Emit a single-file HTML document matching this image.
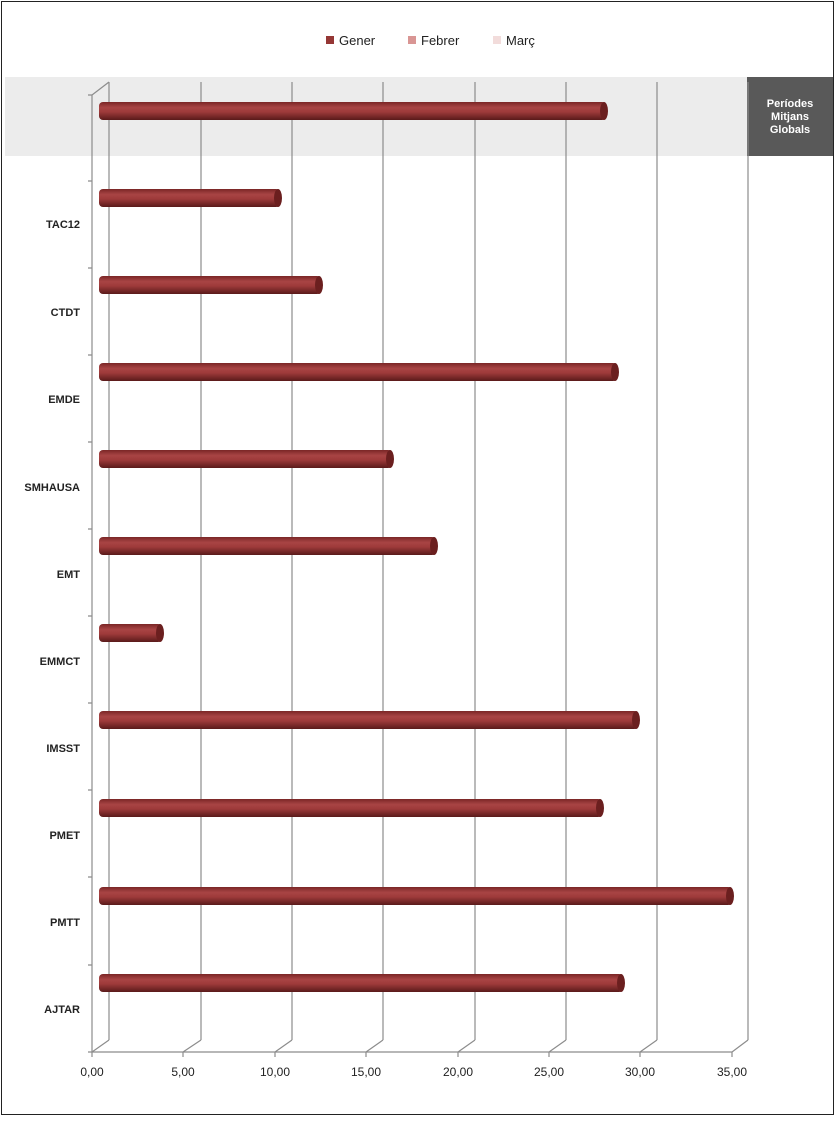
<!DOCTYPE html>
<html><head><meta charset="utf-8"><style>
body{margin:0;background:#fff;}
svg text{font-family:"Liberation Sans",sans-serif;}
</style></head><body>
<svg width="836" height="1117" viewBox="0 0 836 1117" xmlns="http://www.w3.org/2000/svg">
<defs>
<linearGradient id="cyl" x1="0" y1="0" x2="0" y2="1">
<stop offset="0" stop-color="#7a2626"/>
<stop offset="0.3" stop-color="#a84444"/>
<stop offset="0.55" stop-color="#9e3a3a"/>
<stop offset="1" stop-color="#5a1a1a"/>
</linearGradient>
</defs>
<rect x="1.5" y="1.5" width="832" height="1113" fill="#fff" stroke="#222" stroke-width="1"/>
<rect x="5" y="77" width="742" height="79" fill="#ececec"/>
<rect x="747" y="77" width="86" height="79" fill="#595959"/>
<text x="790" y="107" fill="#fff" font-size="11" font-weight="bold" text-anchor="middle">Períodes</text>
<text x="790" y="120" fill="#fff" font-size="11" font-weight="bold" text-anchor="middle">Mitjans</text>
<text x="790" y="133" fill="#fff" font-size="11" font-weight="bold" text-anchor="middle">Globals</text>
<!-- legend -->
<rect x="326" y="36" width="8" height="8" fill="#953735"/>
<text x="339" y="45" font-size="13" fill="#222">Gener</text>
<rect x="408" y="36" width="8" height="8" fill="#d99694"/>
<text x="421" y="45" font-size="13" fill="#222">Febrer</text>
<rect x="493" y="36" width="8" height="8" fill="#f2dcdb"/>
<text x="506" y="45" font-size="13" fill="#222">Març</text>
<g stroke="#8c8c8c" stroke-width="1.2" fill="none">
<path d="M109 82V1040 M201 82V1040 M292 82V1040 M383 82V1040 M475 82V1040 M566 82V1040 M657 82V1040 M748 82V1040"/>
<path d="M92 95L109 82 M92 95V1052H732 M92 1052L109 1040 M183 1052L201 1040 M275 1052L292 1040 M366 1052L383 1040 M458 1052L475 1040 M549 1052L566 1040 M640 1052L657 1040 M732 1052L748 1040"/>
<path d="M88 95H92 M88 181H92 M88 268H92 M88 355H92 M88 442H92 M88 529H92 M88 616H92 M88 703H92 M88 790H92 M88 877H92 M88 965H92 M88 1052H92"/>
<path d="M92 1052V1057 M183 1052V1057 M275 1052V1057 M366 1052V1057 M458 1052V1057 M549 1052V1057 M640 1052V1057 M732 1052V1057"/>
</g>
<g font-size="12" fill="#222" text-anchor="middle">
<text x="92" y="1076">0,00</text><text x="183" y="1076">5,00</text><text x="275" y="1076">10,00</text><text x="366" y="1076">15,00</text><text x="458" y="1076">20,00</text><text x="549" y="1076">25,00</text><text x="640" y="1076">30,00</text><text x="732" y="1076">35,00</text>
</g>
<g font-size="11" font-weight="bold" fill="#222" text-anchor="end">
<text x="80" y="228">TAC12</text><text x="80" y="316">CTDT</text><text x="80" y="403">EMDE</text><text x="80" y="491">SMHAUSA</text><text x="80" y="578">EMT</text><text x="80" y="665">EMMCT</text><text x="80" y="752">IMSST</text><text x="80" y="839">PMET</text><text x="80" y="926">PMTT</text><text x="80" y="1013">AJTAR</text>
</g>
<g id="bars">
<!-- y center, end x -->
</g>
<g>
<rect x="99" y="102" width="507" height="18" rx="4" fill="url(#cyl)"/><ellipse cx="604" cy="111" rx="4" ry="9" fill="#6b1f1f"/>
<rect x="99" y="189" width="181" height="18" rx="4" fill="url(#cyl)"/><ellipse cx="278" cy="198" rx="4" ry="9" fill="#6b1f1f"/>
<rect x="99" y="276" width="222" height="18" rx="4" fill="url(#cyl)"/><ellipse cx="319" cy="285" rx="4" ry="9" fill="#6b1f1f"/>
<rect x="99" y="363" width="518" height="18" rx="4" fill="url(#cyl)"/><ellipse cx="615" cy="372" rx="4" ry="9" fill="#6b1f1f"/>
<rect x="99" y="450" width="293" height="18" rx="4" fill="url(#cyl)"/><ellipse cx="390" cy="459" rx="4" ry="9" fill="#6b1f1f"/>
<rect x="99" y="537" width="337" height="18" rx="4" fill="url(#cyl)"/><ellipse cx="434" cy="546" rx="4" ry="9" fill="#6b1f1f"/>
<rect x="99" y="624" width="63" height="18" rx="4" fill="url(#cyl)"/><ellipse cx="160" cy="633" rx="4" ry="9" fill="#6b1f1f"/>
<rect x="99" y="711" width="539" height="18" rx="4" fill="url(#cyl)"/><ellipse cx="636" cy="720" rx="4" ry="9" fill="#6b1f1f"/>
<rect x="99" y="799" width="503" height="18" rx="4" fill="url(#cyl)"/><ellipse cx="600" cy="808" rx="4" ry="9" fill="#6b1f1f"/>
<rect x="99" y="887" width="633" height="18" rx="4" fill="url(#cyl)"/><ellipse cx="730" cy="896" rx="4" ry="9" fill="#6b1f1f"/>
<rect x="99" y="974" width="524" height="18" rx="4" fill="url(#cyl)"/><ellipse cx="621" cy="983" rx="4" ry="9" fill="#6b1f1f"/>
</g>
</svg>
</body></html>
